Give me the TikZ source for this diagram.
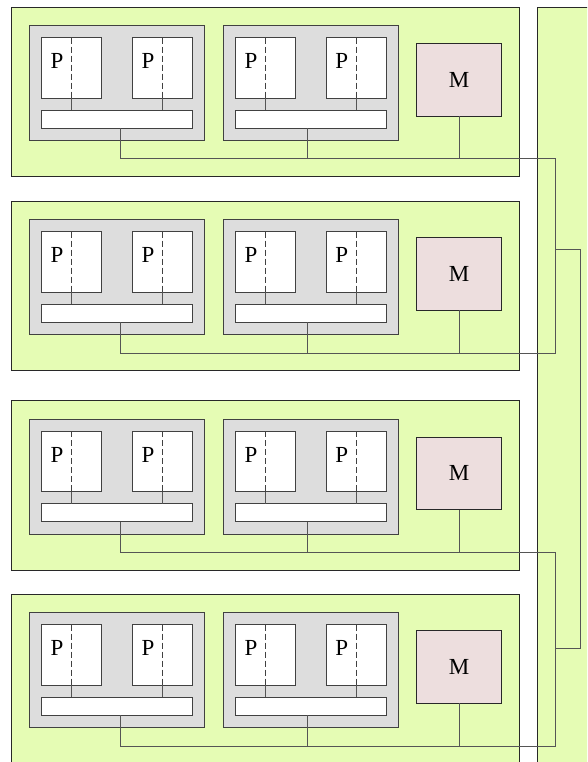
\documentclass[tikz,border=0pt]{standalone}
\usepackage{fontspec}
\setmainfont{Liberation Serif}
\usetikzlibrary{calc}
\definecolor{rowgreen}{RGB}{229,252,180}
\definecolor{unitgray}{RGB}{221,221,221}
\definecolor{mempink}{RGB}{237,222,222}
\definecolor{edgedark}{RGB}{40,40,40}
\definecolor{edgemid}{RGB}{65,65,65}
\definecolor{wiregray}{RGB}{85,85,85}
\begin{document}
\begin{tikzpicture}[x=1pt,y=-1pt,
  box/.style={rectangle, draw=edgemid, line width=1pt, inner sep=0pt, outer sep=0pt, anchor=north west},
  rowbox/.style={box, draw=edgedark, fill=rowgreen, minimum width=508pt, minimum height=169.5pt},
  unitbox/.style={box, fill=unitgray, minimum width=175.6pt, minimum height=115pt},
  procbox/.style={box, fill=white, minimum width=60.6pt, minimum height=60.6pt},
  barbox/.style={box, fill=white, minimum width=151.3pt, minimum height=18pt},
  membox/.style={box, draw=edgedark, fill=mempink, minimum width=85.4pt, minimum height=72.6pt},
  lbl/.style={inner sep=0pt, font=\fontsize{23}{23}\selectfont},
  wire/.style={draw=wiregray, line width=1pt},
  splitline/.style={draw=edgemid, line width=1pt, dash pattern=on 6pt off 3pt},
]
\useasboundingbox (0,0) rectangle (587,762);
\clip (0,0) rectangle (587,762);
\node[box, draw=edgedark, fill=rowgreen, minimum width=80pt, minimum height=800pt] (panel) at (537,7.3) {};
\foreach \r/\o in {1/0,2/194,3/393.5,4/587}{
  \begin{scope}[shift={(0,\o)}]
    \node[rowbox] (row\r) at (11.3,7.3) {};
    \node[unitbox] (u\r-a) at (29.3,25.7) {};
    \node[unitbox] (u\r-b) at (223,25.7) {};
    \node[procbox] (p\r-a1) at (41.3,37.7) {};
    \node[procbox] (p\r-a2) at (132.3,37.7) {};
    \node[procbox] (p\r-b1) at (235,37.7) {};
    \node[procbox] (p\r-b2) at (326,37.7) {};
    \node[barbox] (b\r-a) at (41.3,110.3) {};
    \node[barbox] (b\r-b) at (235,110.3) {};
    \node[membox] (m\r) at (416.3,43.7) {};
    \node[lbl] (lp\r-a1) at (57,61) {P};
    \node[lbl] (lp\r-a2) at (148,61) {P};
    \node[lbl] (lp\r-b1) at (251,61) {P};
    \node[lbl] (lp\r-b2) at (341.7,61) {P};
    \node[lbl] (lm\r) at (459,79.5) {M};
    \coordinate (j\r) at (555.7,159);
    \coordinate (ta\r) at ([xshift=3.3pt]b\r-a.south);
    \coordinate (tb\r) at ([xshift=-3pt]b\r-b.south);
  \end{scope}
  \foreach \p in {a1,a2,b1,b2}{
    \draw[splitline] (p\r-\p.north) -- (p\r-\p.south);
  }
  \draw[wire] (p\r-a1.south) -- (p\r-a1.south |- b\r-a.north);
  \draw[wire] (p\r-a2.south) -- (p\r-a2.south |- b\r-a.north);
  \draw[wire] (p\r-b1.south) -- (p\r-b1.south |- b\r-b.north);
  \draw[wire] (p\r-b2.south) -- (p\r-b2.south |- b\r-b.north);
  \draw[wire] (ta\r) |- (j\r);
  \draw[wire] (tb\r) -- (tb\r |- j\r);
  \draw[wire] (m\r.south) -- (m\r.south |- j\r);
}
\coordinate (k1) at (555.7,249.3);
\coordinate (k2) at (555.7,648);
\coordinate (r1) at (580,249.3);
\coordinate (r2) at (580,648);
\draw[wire] (j1) -- (j2);
\draw[wire] (j3) -- (j4);
\draw[wire] (k1) -- (r1) -- (r2) -- (k2);
\end{tikzpicture}
\end{document}
